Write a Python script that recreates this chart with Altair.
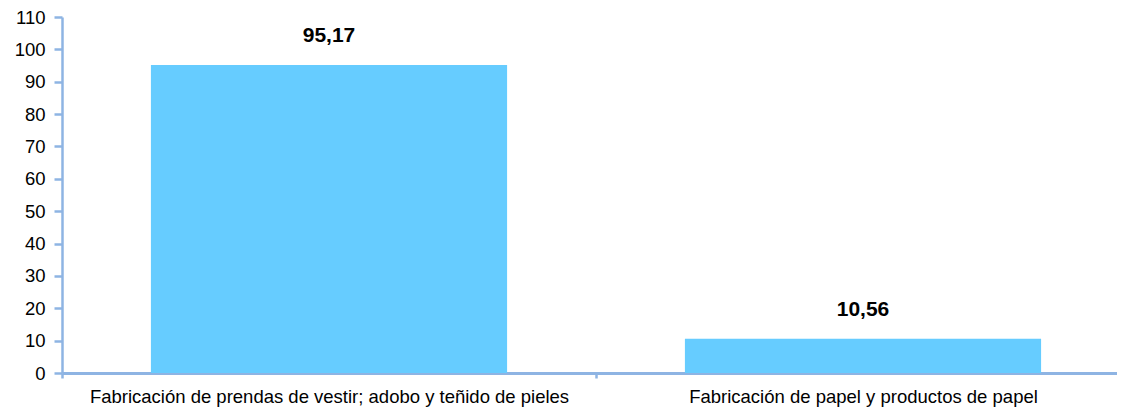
import altair as alt
import pandas as pd

categories = [
    "Fabricación de prendas de vestir; adobo y teñido de pieles",
    "Fabricación de papel y productos de papel",
]
values = [95.17, 10.56]
y_ticks = list(range(0, 111, 10))

labels = [f"{v:.2f}".replace(".", ",") for v in values]
df = pd.DataFrame({"cat": categories, "val": values, "lab": labels})

AXIS_COLOR = "#8EB4E3"
BAR_COLOR = "#66CCFF"
FONT = "Liberation Sans"

x_enc = alt.X(
    "cat:N",
    sort=None,
    scale=alt.Scale(range=[0, 1068], paddingInner=0, paddingOuter=0),
    axis=alt.Axis(
        title=None,
        labelAngle=0,
        labelLimit=0,
        labelOverlap=False,
        tickBand="extent",
        tickSize=5,
        tickWidth=2.5,
        tickColor=AXIS_COLOR,
        domainColor=AXIS_COLOR,
        domainWidth=3,
        labelPadding=9,
        labelFontSize=18.5,
        labelColor="#000000",
        labelFont=FONT,
        grid=False,
    ),
)
y_enc = alt.Y(
    "val:Q",
    scale=alt.Scale(domain=[0, 110], nice=False),
    axis=alt.Axis(
        title=None,
        values=y_ticks,
        labelOverlap=False,
        tickSize=8,
        tickWidth=2.5,
        tickColor=AXIS_COLOR,
        domainColor=AXIS_COLOR,
        domainWidth=2.5,
        labelPadding=9,
        labelFontSize=18.5,
        labelColor="#000000",
        labelFont=FONT,
        grid=False,
    ),
)

bars = alt.Chart(df).mark_bar(
    color=BAR_COLOR, width=alt.RelativeBandSize(0.667)
).encode(x=x_enc, y=y_enc)

text = alt.Chart(df).mark_text(
    font=FONT, fontSize=21, fontWeight="bold", color="#000000",
    baseline="alphabetic", dy=-23,
).encode(x=x_enc, y=y_enc, text="lab:N")

chart = (
    alt.layer(bars, text)
    .properties(
        width=1050,
        height=356,
        background="white",
        autosize=alt.AutoSizeParams(type="none"),
        padding={"left": 54, "top": 9, "right": 5, "bottom": 38},
    )
    .configure_view(strokeWidth=0, stroke="transparent")
)

chart.save("out.html", embed_options={"renderer": "svg", "actions": False})
